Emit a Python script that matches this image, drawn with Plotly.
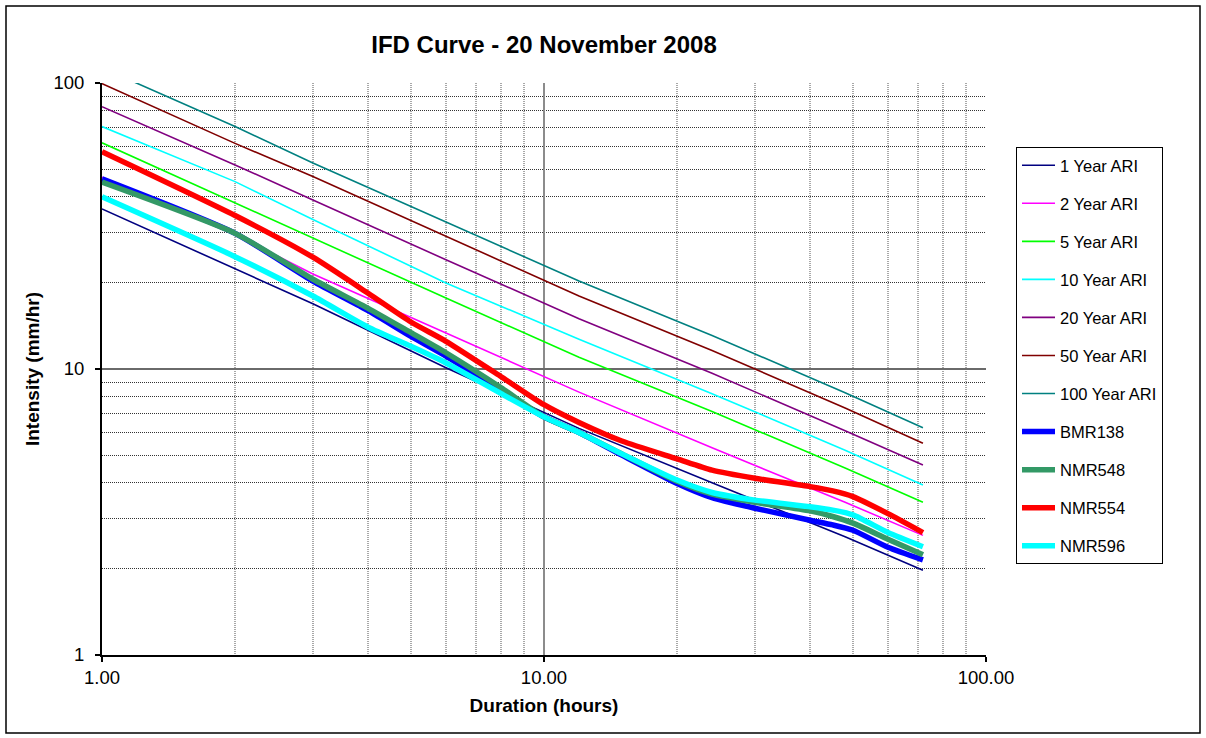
import plotly.graph_objects as go

# Durations (hours)
ari_durations = [1, 2, 3, 6, 12, 24, 48, 72]
ari_1 = [36.3, 22.5, 16.9, 10.1, 6.2, 4.0, 2.59, 1.98]
ari_2 = [46.8, 29.5, 21.5, 13.4, 8.3, 5.3, 3.42, 2.62]
ari_5 = [61.8, 38.1, 28.6, 17.7, 11.0, 7.1, 4.51, 3.42]
ari_10 = [70.4, 45.2, 33.3, 20.0, 12.7, 8.2, 5.20, 3.93]
ari_20 = [82.6, 51.7, 39.0, 24.1, 15.0, 9.66, 6.08, 4.62]
ari_50 = [99.5, 61.5, 47.1, 29.2, 18.0, 11.6, 7.31, 5.50]
ari_100 = [113.0, 70.4, 52.5, 32.7, 20.3, 13.1, 8.26, 6.23]

obs_durations = [1, 2, 3, 4, 5, 6, 8, 10, 12, 15, 20, 24, 30, 40, 45, 50, 60, 72]
bmr138 = [46.2, 29.8, 20.3, 16.0, 13.0, 11.1, 8.4, 6.8, 6.0, 5.0, 3.98, 3.55, 3.26, 2.96, 2.85, 2.73, 2.38, 2.15]
nmr548 = [45.0, 29.8, 20.6, 16.3, 13.4, 11.4, 8.6, 6.8, 6.0, 5.05, 4.05, 3.65, 3.42, 3.19, 3.05, 2.89, 2.54, 2.24]
nmr554 = [57.5, 34.4, 24.6, 18.4, 14.6, 12.5, 9.4, 7.5, 6.5, 5.6, 4.85, 4.43, 4.15, 3.88, 3.75, 3.58, 3.12, 2.68]
nmr596 = [40.0, 24.7, 18.0, 14.0, 12.0, 10.5, 8.2, 6.8, 6.0, 5.05, 4.09, 3.70, 3.48, 3.30, 3.21, 3.09, 2.68, 2.39]

ari_series = [
    ("1 Year ARI", ari_1, "#000080"),
    ("2 Year ARI", ari_2, "#FF00FF"),
    ("5 Year ARI", ari_5, "#00FF00"),
    ("10 Year ARI", ari_10, "#00FFFF"),
    ("20 Year ARI", ari_20, "#800080"),
    ("50 Year ARI", ari_50, "#800000"),
    ("100 Year ARI", ari_100, "#008080"),
]
obs_series = [
    ("BMR138", bmr138, "#0000FF"),
    ("NMR548", nmr548, "#339966"),
    ("NMR554", nmr554, "#FF0000"),
    ("NMR596", nmr596, "#00FFFF"),
]

x_tickvals = [1, 10, 100]
x_ticktext = ["1.00", "10.00", "100.00"]
y_tickvals = [1, 10, 100]
y_ticktext = ["1", "10", "100"]
minor_vals = [2, 3, 4, 5, 6, 7, 8, 9, 20, 30, 40, 50, 60, 70, 80, 90]

FONT = "Arial, 'Liberation Sans', sans-serif"

fig = go.Figure()
for i, (name, vals, col) in enumerate(ari_series):
    fig.add_trace(go.Scatter(x=ari_durations, y=vals, name=name, mode="lines",
                             line=dict(color=col, width=1.6), legendgroup=f"g{i}"))
for j, (name, vals, col) in enumerate(obs_series):
    fig.add_trace(go.Scatter(x=obs_durations, y=vals, name=name, mode="lines",
                             line=dict(color=col, width=5.5, shape="spline", smoothing=0.6),
                             legendgroup=f"h{j}"))

L, R, T, B = 102, 986, 83, 655
W, H = 1206, 738
pw, ph = R - L, B - T

def px(xp):
    return (xp - L) / pw

def py(yp):
    return (B - yp) / ph

fig.update_layout(
    width=W, height=H,
    margin=dict(l=L, r=W - R, t=T, b=H - B, pad=0, autoexpand=False),
    paper_bgcolor="white", plot_bgcolor="white",
    font=dict(family=FONT, size=18, color="black"),
    title=dict(text="<b>IFD Curve - 20 November 2008</b>", x=0.5, xref="paper",
               y=1 - 45 / H, yanchor="middle", xanchor="center",
               font=dict(family=FONT, size=24, color="black")),
    showlegend=True,
    legend=dict(x=px(1016), y=py(147), xanchor="left", yanchor="top",
                bordercolor="black", borderwidth=1, bgcolor="white",
                font=dict(family=FONT, size=16.5, color="black"),
                traceorder="grouped", tracegroupgap=13.6, itemwidth=33),
    xaxis=dict(type="log", range=[0, 2], tickvals=x_tickvals, ticktext=x_ticktext,
               showgrid=True, gridcolor="#8c8c8c", gridwidth=1.6,
               showline=True, linecolor="black", linewidth=2.2,
               ticks="outside", ticklen=5, tickcolor="black", tickwidth=1.5,
               zeroline=False, mirror=False, automargin=False,
               tickfont=dict(family=FONT, size=18.5, color="black"),
               minor=dict(tickvals=minor_vals, showgrid=True, gridcolor="#a8a8a8",
                          griddash="1px,1px", gridwidth=2, ticks=""),
               title=dict(text="<b>Duration (hours)</b>", standoff=11,
                          font=dict(family=FONT, size=19, color="black"))),
    yaxis=dict(type="log", range=[0, 2], tickvals=y_tickvals, ticktext=y_ticktext,
               showgrid=True, gridcolor="#6a6a6a", gridwidth=1.5,
               showline=True, linecolor="black", linewidth=1.8,
               ticks="outside", ticklen=5, tickcolor="black", tickwidth=1.5,
               ticklabelstandoff=7,
               zeroline=False, automargin=False,
               tickfont=dict(family=FONT, size=18.5, color="black"),
               minor=dict(tickvals=minor_vals, showgrid=True, gridcolor="#333333",
                          griddash="1px,1px", gridwidth=1.2, ticks=""),
               title=dict(text="<b>Intensity (mm/hr)</b>", standoff=9,
                          font=dict(family=FONT, size=19, color="black"))),
)

# outer chart border
fig.add_shape(type="rect", xref="paper", yref="paper",
              x0=px(6), x1=px(1200), y0=py(733), y1=py(6),
              line=dict(color="black", width=1.5), fillcolor="rgba(0,0,0,0)", layer="below")

fig.write_html("out.html", config={"displayModeBar": False},
               post_script="document.body.style.margin='0px';document.body.style.padding='0px';document.body.style.overflow='hidden';")
